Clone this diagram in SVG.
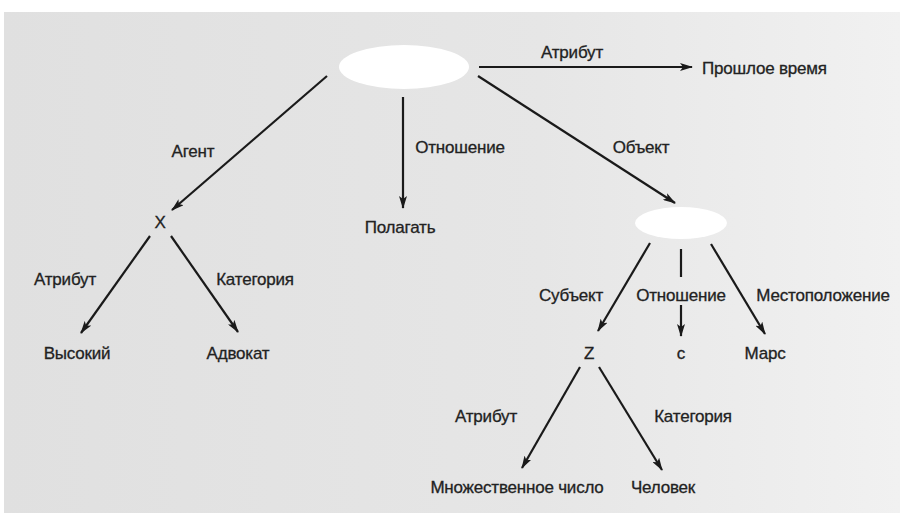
<svg xmlns="http://www.w3.org/2000/svg" width="904" height="517" viewBox="0 0 904 517">
<defs>
<linearGradient id="bg" x1="0" y1="0" x2="1" y2="0">
<stop offset="0" stop-color="#e0e0e0"/>
<stop offset="0.6" stop-color="#e6e6e6"/>
<stop offset="1" stop-color="#f1f1f1"/>
</linearGradient>
<marker id="ah" viewBox="0 0 13 8" refX="12" refY="4" markerWidth="13" markerHeight="8" markerUnits="userSpaceOnUse" orient="auto">
<path d="M0,0 L13,4 L0,8 L3,4 Z" fill="#1a1a1a"/>
</marker>
<style>
text{font-family:"Liberation Sans Narrow","Liberation Sans",Arial,sans-serif;font-size:17px;letter-spacing:-0.2px;fill:#222;stroke:#222;stroke-width:0.3;}
.c line{stroke:#1a1a1a;stroke-width:2.2;fill:none;}
.a{marker-end:url(#ah);}
.e{fill:#fff;}
</style>
</defs>
<rect x="0" y="0" width="904" height="517" fill="#fff"/>
<rect x="4" y="12" width="896" height="501" fill="url(#bg)"/>
<g id="n-root"><ellipse class="e" cx="404" cy="67" rx="65" ry="22"/></g>
<g id="n-past"><text x="702" y="74">Прошлое время</text></g>
<g id="n-x"><text x="160" y="228" text-anchor="middle">X</text></g>
<g id="n-polagat"><text x="400" y="233" text-anchor="middle">Полагать</text></g>
<g id="n-obj"><ellipse class="e" cx="681" cy="223" rx="46" ry="16"/></g>
<g id="n-vysokiy"><text x="77" y="359" text-anchor="middle">Высокий</text></g>
<g id="n-advokat"><text x="238" y="359" text-anchor="middle">Адвокат</text></g>
<g id="n-z"><text x="589" y="359" text-anchor="middle">Z</text></g>
<g id="n-c"><text x="681" y="359" text-anchor="middle">с</text></g>
<g id="n-mars"><text x="765" y="359" text-anchor="middle">Марс</text></g>
<g id="n-mnozh"><text x="517" y="493" text-anchor="middle">Множественное число</text></g>
<g id="n-chelovek"><text x="663" y="493" text-anchor="middle">Человек</text></g>
<g id="connectors" class="c">
<line class="a" x1="479" y1="67" x2="692" y2="67"/>
<line class="a" x1="478" y1="76" x2="675" y2="203"/>
<line class="a" x1="327" y1="76" x2="172" y2="210"/>
<line class="a" x1="403" y1="97" x2="403" y2="208"/>
<line class="a" x1="150" y1="236" x2="81" y2="333"/>
<line class="a" x1="171" y1="236" x2="238" y2="332"/>
<line class="a" x1="650" y1="243" x2="598" y2="331"/>
<line x1="681" y1="249" x2="681" y2="277"/>
<line class="a" x1="681" y1="305" x2="681" y2="336"/>
<line class="a" x1="711" y1="244" x2="765" y2="334"/>
<line class="a" x1="580" y1="367" x2="522" y2="468"/>
<line class="a" x1="599" y1="367" x2="662" y2="470"/>
</g>
<g id="labels">
<text x="572" y="58" text-anchor="middle">Атрибут</text>
<text x="193" y="157" text-anchor="middle">Агент</text>
<text x="460" y="153" text-anchor="middle">Отношение</text>
<text x="641" y="153" text-anchor="middle">Объект</text>
<text x="65" y="285" text-anchor="middle">Атрибут</text>
<text x="255" y="285" text-anchor="middle">Категория</text>
<text x="571" y="301" text-anchor="middle">Субъект</text>
<text x="681" y="301" text-anchor="middle">Отношение</text>
<text x="823" y="301" text-anchor="middle">Местоположение</text>
<text x="486" y="422" text-anchor="middle">Атрибут</text>
<text x="693" y="422" text-anchor="middle">Категория</text>
</g>
</svg>
